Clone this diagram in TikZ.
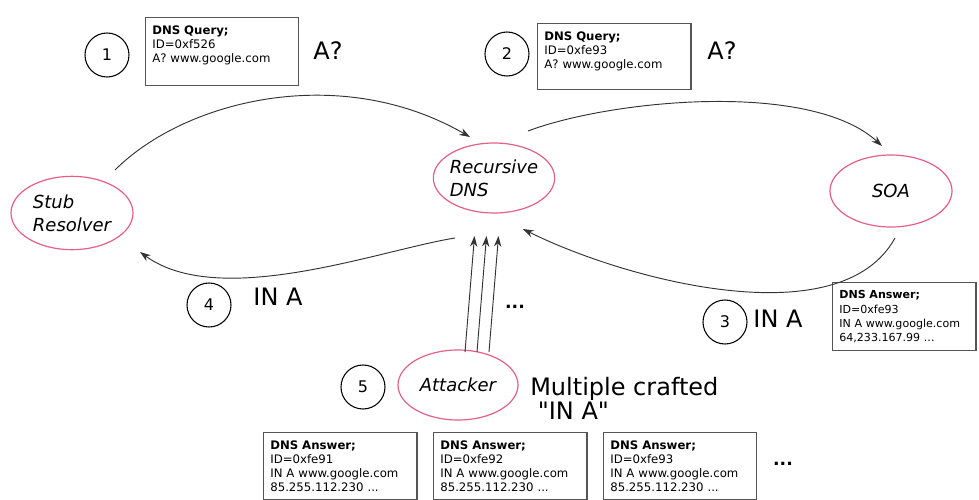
\documentclass[tikz,border=0pt]{standalone}
\usepackage{fontspec}
\setmainfont{DejaVu Sans}[Ligatures=TeXOff]
\usetikzlibrary{shapes.geometric,arrows.meta}
\definecolor{peerpink}{RGB}{228,96,134}
\definecolor{framegray}{RGB}{85,85,85}
\newcommand{\msgtop}[2]{\parbox[t][#1][t]{\linewidth}{#2}}

\begin{document}
\begin{tikzpicture}[x=0.75pt,y=-0.75pt,
  peer/.style={ellipse,draw=peerpink,line width=0.9pt,inner xsep=-3pt,inner ysep=0pt,align=left,font=\fontsize{13.5}{17.5}\selectfont\itshape},
  stepnum/.style={circle,draw,line width=0.8pt,minimum size=33pt,inner sep=0pt,font=\fontsize{12}{14}\selectfont},
  dnsbox/.style={draw=framegray,line width=1pt,anchor=north west,inner xsep=5pt,inner ysep=6pt,align=left,font=\fontsize{8.8}{10.6}\selectfont},
  big/.style={font=\fontsize{18}{14.5}\selectfont,inner sep=0pt},
  dots/.style={font=\fontsize{13}{15}\selectfont\bfseries,inner sep=0pt},
  flow/.style={draw=black!80,line width=0.7pt,-{Stealth[length=8pt,width=5.5pt]}}]
\path[use as bounding box,fill=white] (0,0) rectangle (979,500);

\node[peer,minimum width=91.5pt,minimum height=55pt] (stub) at (72,213) {Stub\\Resolver};
\node[peer,minimum width=91pt,minimum height=52.5pt] (rec) at (494,178) {Recursive\\DNS};
\node[peer,minimum width=91.5pt,minimum height=54pt] (soa) at (891,191) {SOA};
\node[peer,minimum width=90pt,minimum height=52.5pt] (att) at (458,385) {Attacker};

\node[stepnum] (s1) at (107,55) {1};
\node[stepnum] (s2) at (507,54) {2};
\node[stepnum] (s3) at (725,322) {3};
\node[stepnum] (s4) at (209,305) {4};
\node[stepnum] (s5) at (363,387) {5};

\node[dnsbox,text width=104.5pt] (q1) at (145,17) {\msgtop{39pt}{\textbf{DNS Query;}\\ID=0xf526\\A? www.google.com}};
\node[dnsbox,text width=105pt] (q2) at (537,23) {\msgtop{37.5pt}{\textbf{DNS Query;}\\ID=0xfe93\\A? www.google.com}};
\node[dnsbox,text width=97.5pt,font=\fontsize{8.3}{10.6}\selectfont] (r3) at (832,282) {\textbf{DNS Answer;}\\ID=0xfe93\\IN A www.google.com\\64,233.167.99 ...};
\node[dnsbox,text width=105pt] (f1) at (263,432) {\textbf{DNS Answer;}\\ID=0xfe91\\IN A www.google.com\\85.255.112.230 ...};
\node[dnsbox,text width=105pt] (f2) at (433,432) {\textbf{DNS Answer;}\\ID=0xfe92\\IN A www.google.com\\85.255.112.230 ...};
\node[dnsbox,text width=104.5pt] (f3) at (603,432) {\textbf{DNS Answer;}\\ID=0xfe93\\IN A www.google.com\\85.255.112.230 ...};

\node[big] (ask1) at (328,51) {A?};
\node[big] (ask2) at (722,51) {A?};
\node[big] (ans4) at (278,297) {IN A};
\node[big] (ans3) at (778,319) {IN A};
\node[big,anchor=north west,align=left] (crafted) at (530,377) {Multiple crafted\\\hspace*{5.7pt}"IN A"};
\node[dots] (more1) at (515,307) {...};
\node[dots] (more2) at (783,464) {...};

\draw[flow] ([shift={(43,-43)}]stub.center) .. controls +(70,-70) and +(-130,-75) .. ([shift={(-24,-41)}]rec.center);
\draw[flow] ([shift={(34,-47)}]rec.center) .. controls +(82,-31) and +(-72,-66) .. ([shift={(-9,-45)}]soa.center);
\draw[flow] ([shift={(4,47)}]soa.center) .. controls +(-55,100) and +(100,50) .. ([shift={(29,51)}]rec.center);
\draw[flow] ([shift={(-39,60)}]rec.center) .. controls +(-75,12) and +(80,58) .. ([shift={(68,39)}]stub.center);
\foreach \dx in {7,19,31}
  \draw[flow] ([shift={(\dx,-33)}]att.center) -- ([shift={(\dx-26.5,58)}]rec.center);
\end{tikzpicture}
\end{document}
